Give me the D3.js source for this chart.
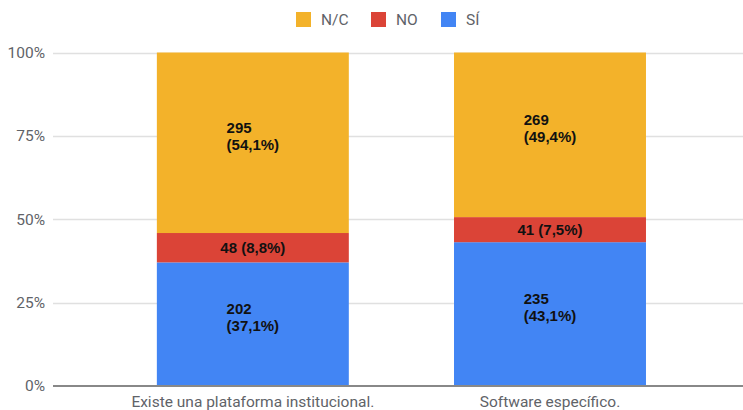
<!DOCTYPE html>
<html>
<head>
<meta charset="utf-8">
<script src="https://cdn.jsdelivr.net/npm/d3@7"></script>
<style>
	body { margin: 0; background: #fff; }
	#chart svg { display: block; }
</style>
</head>
<body>
<div id="chart"></div>
<script>

var categories = ["Existe una plataforma institucional.", "Software específico."]
var seriesNames = ["SÍ", "NO", "N/C"]
var siValues = [202, 235]
var noValues = [48, 41]
var ncValues = [295, 269]
var pctLabels = {
	"SÍ": ["37,1%", "43,1%"],
	"NO": ["8,8%", "7,5%"],
	"N/C": ["54,1%", "49,4%"]
}
var yTicks = [0, 0.25, 0.5, 0.75, 1]
var legendOrder = ["N/C", "NO", "SÍ"]

var width = 743
var height = 410
var margin = {top: 52.5, right: 0, bottom: 23.5, left: 53}

var colors = d3.scaleOrdinal()
	.domain(seriesNames)
	.range(["#4285f4", "#db4437", "#f3b22a"])

var rows = categories.map(function(c, i) {
	return {cat: c, "SÍ": siValues[i], "NO": noValues[i], "N/C": ncValues[i], i: i}
})

var stack = d3.stack()
	.keys(seriesNames)
	.offset(d3.stackOffsetExpand)

var series = stack(rows)

var svg = d3.select("#chart").append("svg")
	.attr("width", width)
	.attr("height", height)

var x = d3.scaleBand()
	.domain(categories)
	.range([margin.left, width - margin.right])
	.paddingInner(0.354)
	.paddingOuter(0.338)
	.align(0.517)

var y = d3.scaleLinear()
	.domain([0, 1])
	.range([height - margin.bottom - 0.5, margin.top])

// gridlines
svg.append("g")
	.selectAll("line")
	.data(yTicks.filter(function(d) { return d > 0 }))
	.enter().append("line")
		.attr("x1", margin.left)
		.attr("x2", width)
		.attr("y1", function(d) { return Math.round(y(d)) + 0.5 })
		.attr("y2", function(d) { return Math.round(y(d)) + 0.5 })
		.attr("stroke", "#e0e0e0")
		.attr("stroke-width", 1.5)

// y tick labels
var yAxis = d3.axisLeft(y)
	.tickValues(yTicks)
	.tickFormat(d3.format(".0%"))
	.tickSize(0)
	.tickPadding(8)

var yG = svg.append("g")
	.attr("transform", "translate(" + margin.left + ",0)")
	.call(yAxis)

yG.select(".domain").remove()
yG.selectAll("text")
	.attr("fill", "#5f6368")
	.style("font-family", "Roboto, sans-serif")
	.style("font-size", "15.5px")

// bars
var layers = svg.append("g")
	.selectAll("g")
	.data(series)
	.enter().append("g")
		.attr("fill", function(d) { return colors(d.key) })

layers.selectAll("rect")
	.data(function(d) { return d })
	.enter().append("rect")
		.attr("x", function(d) { return x(d.data.cat) })
		.attr("width", x.bandwidth())
		.attr("y", function(d) { return y(d[1]) })
		.attr("height", function(d) { return y(d[0]) - y(d[1]) })

// baseline
svg.append("line")
	.attr("x1", margin.left)
	.attr("x2", width)
	.attr("y1", y(0))
	.attr("y2", y(0))
	.attr("stroke", "#888")
	.attr("stroke-width", 2)

// value labels
var labelG = svg.append("g")
	.style("font-family", "'Liberation Sans', Arial, sans-serif")
	.style("font-size", "15px")
	.style("font-weight", "bold")
	.attr("fill", "#111")

series.forEach(function(s) {
	s.forEach(function(d) {
		var v = d.data[s.key]
		var pct = pctLabels[s.key][d.data.i]
		var cx = x(d.data.cat) + x.bandwidth() / 2
		var cy = (y(d[0]) + y(d[1])) / 2
		var segH = y(d[0]) - y(d[1])
		if (segH < 40) {
			labelG.append("text")
				.attr("x", cx)
				.attr("y", cy)
				.attr("dy", "0.35em")
				.attr("text-anchor", "middle")
				.text(v + " (" + pct + ")")
		} else {
			var t = labelG.append("text")
				.attr("y", cy - 7)
			var l1 = t.append("tspan").attr("dy", "-0.2em").text(v)
			var l2 = t.append("tspan").attr("dy", "1.15em").text("(" + pct + ")")
			var w = l2.node().getComputedTextLength()
			l1.attr("x", cx - w / 2)
			l2.attr("x", cx - w / 2)
		}
	})
})

// x labels
svg.append("g")
	.selectAll("text")
	.data(categories)
	.enter().append("text")
		.attr("x", function(d) { return x(d) + x.bandwidth() / 2 })
		.attr("y", 407)
		.attr("text-anchor", "middle")
		.attr("fill", "#5f6368")
		.style("font-family", "Roboto, sans-serif")
		.style("font-size", "15.5px")
		.text(function(d) { return d })

// legend
var legendX = [296, 371, 441]
var legend = svg.append("g")
	.selectAll("g")
	.data(legendOrder)
	.enter().append("g")
		.attr("transform", function(d, i) { return "translate(" + legendX[i] + ",12)" })

legend.append("rect")
	.attr("width", 15)
	.attr("height", 15)
	.attr("fill", function(d) { return colors(d) })

legend.append("text")
	.attr("x", 25)
	.attr("y", 7.5)
	.attr("dy", "0.35em")
	.attr("fill", "#5f6368")
	.style("font-family", "Roboto, sans-serif")
	.style("font-size", "15.5px")
	.text(function(d) { return d })

</script>
</body>
</html>
